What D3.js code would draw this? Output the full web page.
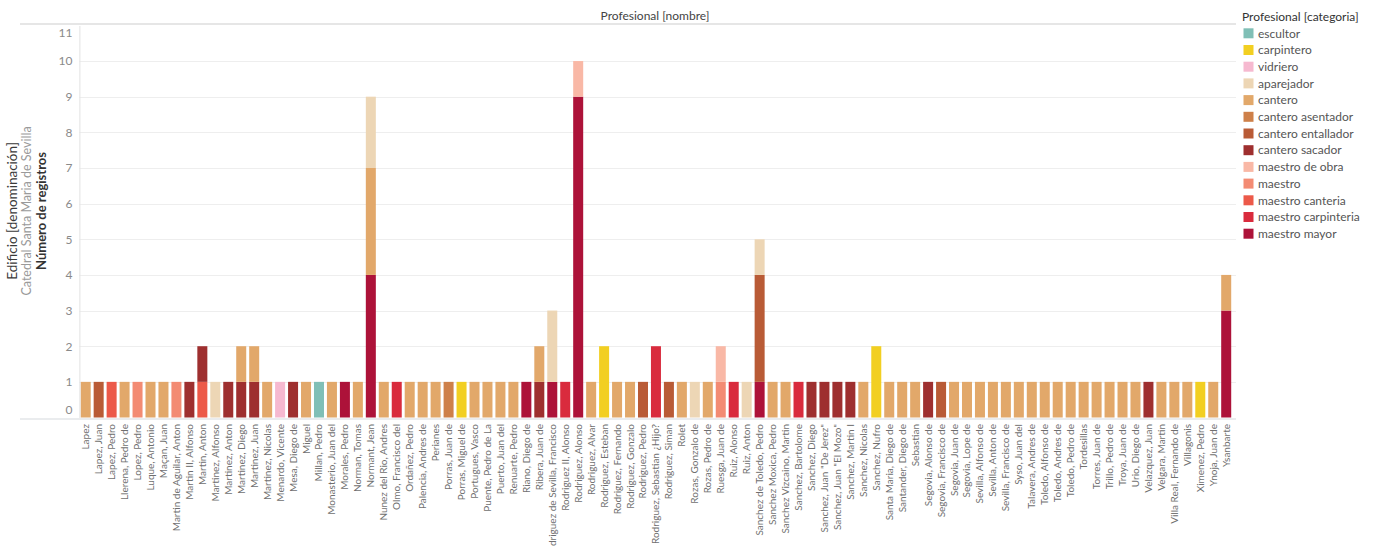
<!DOCTYPE html>
<html>
<head>
<meta charset="utf-8">
<script src="https://cdn.jsdelivr.net/npm/d3@7"></script>
<style>
  body { margin: 0; background: #fff; }
  svg { display: block; font-family: Lato, "Open Sans", sans-serif; }
</style>
</head>
<body>
<svg id="chart" width="1380" height="546"></svg>
<script>
// Professional categories, in legend order
const categories = [
  "escultor", "carpintero", "vidriero", "aparejador", "cantero",
  "cantero asentador", "cantero entallador", "cantero sacador",
  "maestro de obra", "maestro", "maestro canteria",
  "maestro carpinteria", "maestro mayor"
];
const categoryColors = [
  "#80bfb6", "#f2cf21", "#f6b9d0", "#edd6b5", "#e2a86a",
  "#ce8049", "#b95b36", "#9e2f2f", "#f9b8a6", "#f38b73",
  "#ec5949", "#d92b3d", "#ad1239"
];

// Professionals (x axis)
const names = [
  "Lapez", "Lapez, Juan", "Lapez, Pedro", "Llerena, Pedro de", "Lopez, Pedro",
  "Luque, Antonio", "Maçan, Juan", "Martin de Aguilar, Anton", "Martin II, Alfonso",
  "Martin, Anton", "Martinez, Alfonso", "Martinez, Anton", "Martinez, Diego",
  "Martinez, Juan", "Martinez, Nicolas", "Menardo, Vicente", "Mesa, Diego de",
  "Miguel", "Millan, Pedro", "Monasterio, Juan del", "Morales, Pedro",
  "Norman, Tomas", "Normant, Jean", "Nunez del Rio, Andres", "Olmo, Francisco del",
  "Ordañez, Pedro", "Palencia, Andres de", "Perianes", "Porras, Juan de",
  "Porras, Miguel de", "Portugues, Vasco", "Puente, Pedro de La", "Puerto, Juan del",
  "Renuarte, Pedro", "Riano, Diego de", "Ribera, Juan de",
  "Rodriguez de Sevilla, Francisco", "Rodriguez II, Alonso", "Rodriguez, Alonso",
  "Rodriguez, Alvar", "Rodriguez, Esteban", "Rodriguez, Fernando",
  "Rodriguez, Gonzalo", "Rodriguez, Pedro", "Rodriguez, Sebastian ¿Hijo?",
  "Rodriguez, Siman", "Rolet", "Rozas, Gonzalo de", "Rozas, Pedro de",
  "Ruesga, Juan de", "Ruiz, Alonso", "Ruiz, Anton", "Sanchez de Toledo, Pedro",
  "Sanchez Moxica, Pedro", "Sanchez Vizcaino, Martin", "Sanchez, Bartolome",
  "Sanchez, Diego", "Sanchez, Juan \"De Jerez\"", "Sanchez, Juan \"El Mozo\"",
  "Sanchez, Martin I", "Sanchez, Nicolas", "Sanchez, Nufro", "Santa Maria, Diego de",
  "Santander, Diego de", "Sebastian", "Segovia, Alonso de", "Segovia, Francisco de",
  "Segovia, Juan de", "Segovia, Lope de", "Sevilla, Alfonso de", "Sevilla, Anton de",
  "Sevilla, Francisco de", "Syso, Juan del", "Talavera, Andres de",
  "Toledo, Alfonso de", "Toledo, Andres de", "Toledo, Pedro de", "Tordesillas",
  "Torres, Juan de", "Trillo, Pedro de", "Troya, Juan de", "Urio, Diego de",
  "Velazquez, Juan", "Velgara, Martin", "Villa Real, Fernando de", "Villagonis",
  "Ximenez, Pedro", "Ynoja, Juan de", "Ysanbarte"
];

// Number of records per professional, split by category
const records = [
  [["cantero", 1]], [["cantero entallador", 1]], [["maestro canteria", 1]],
  [["cantero", 1]], [["maestro", 1]], [["cantero", 1]], [["cantero", 1]],
  [["maestro", 1]], [["cantero sacador", 1]],
  [["maestro canteria", 1], ["cantero sacador", 1]],
  [["aparejador", 1]], [["cantero sacador", 1]],
  [["cantero sacador", 1], ["cantero", 1]],
  [["cantero sacador", 1], ["cantero", 1]],
  [["cantero", 1]], [["vidriero", 1]], [["cantero sacador", 1]],
  [["cantero", 1]], [["escultor", 1]], [["cantero", 1]], [["maestro mayor", 1]],
  [["cantero", 1]],
  [["maestro mayor", 4], ["cantero", 3], ["aparejador", 2]],
  [["cantero", 1]], [["maestro carpinteria", 1]], [["cantero", 1]],
  [["cantero", 1]], [["cantero", 1]], [["cantero asentador", 1]],
  [["carpintero", 1]], [["cantero", 1]], [["cantero", 1]], [["cantero", 1]],
  [["cantero", 1]], [["maestro mayor", 1]],
  [["cantero sacador", 1], ["cantero", 1]],
  [["maestro mayor", 1], ["aparejador", 2]],
  [["maestro carpinteria", 1]],
  [["maestro mayor", 9], ["maestro de obra", 1]],
  [["cantero", 1]], [["carpintero", 2]], [["cantero", 1]], [["cantero", 1]],
  [["cantero entallador", 1]], [["maestro carpinteria", 2]],
  [["cantero entallador", 1]], [["cantero", 1]], [["aparejador", 1]],
  [["cantero", 1]], [["maestro", 1], ["maestro de obra", 1]],
  [["maestro carpinteria", 1]], [["aparejador", 1]],
  [["maestro mayor", 1], ["cantero entallador", 3], ["aparejador", 1]],
  [["cantero", 1]], [["cantero", 1]], [["maestro carpinteria", 1]],
  [["cantero sacador", 1]], [["cantero sacador", 1]], [["cantero sacador", 1]],
  [["cantero sacador", 1]], [["cantero", 1]], [["carpintero", 2]],
  [["cantero", 1]], [["cantero", 1]], [["cantero", 1]],
  [["cantero sacador", 1]], [["cantero entallador", 1]],
  [["cantero", 1]], [["cantero", 1]], [["cantero", 1]], [["cantero", 1]],
  [["cantero", 1]], [["cantero", 1]], [["cantero", 1]], [["cantero", 1]],
  [["cantero", 1]], [["cantero", 1]], [["cantero", 1]], [["cantero", 1]],
  [["cantero", 1]], [["cantero", 1]], [["cantero", 1]],
  [["cantero sacador", 1]], [["cantero", 1]], [["cantero", 1]], [["cantero", 1]],
  [["carpintero", 1]], [["cantero", 1]],
  [["maestro mayor", 3], ["cantero", 1]]
];

const yTickValues = [0, 1, 2, 3, 4, 5, 6, 7, 8, 9, 10, 11];

const svg = d3.select("#chart");

// Pane geometry
const paneLeft = 79.4, paneRight = 1236, paneTop = 25.4, paneBottom = 417.5;

const x = d3.scaleBand()
  .domain(names)
  .range([paneLeft, 1232.5])
  .paddingInner(0.228)
  .paddingOuter(0.1);

const y = d3.scaleLinear()
  .domain([0, 11])
  .range([paneBottom, paneTop]);

const color = d3.scaleOrdinal().domain(categories).range(categoryColors);

// Build a wide table: one row per professional, one column per category
const table = names.map((n, i) => {
  const row = { name: n };
  categories.forEach(c => row[c] = 0);
  records[i].forEach(([c, v]) => row[c] += v);
  return row;
});

// Last legend entry sits at the bottom of each stack
const stackKeys = categories.slice().reverse();
const series = d3.stack().keys(stackKeys)(table);

// Header line and pane title
svg.append("line")
  .attr("x1", 20).attr("x2", paneRight)
  .attr("y1", 24).attr("y2", 24)
  .attr("stroke", "#dedede").attr("stroke-width", 1.5);

svg.append("text")
  .attr("x", 655).attr("y", 20)
  .attr("text-anchor", "middle")
  .attr("font-size", 12)
  .attr("fill", "#444")
  .text("Profesional [nombre]");

// Horizontal gridlines
svg.append("g")
  .selectAll("line")
  .data(yTickValues.filter(v => v > 0 && v < 11))
  .join("line")
  .attr("x1", paneLeft).attr("x2", paneRight)
  .attr("y1", d => Math.round(y(d)) + 0.5)
  .attr("y2", d => Math.round(y(d)) + 0.5)
  .attr("stroke", "#eeeeee");

// Stacked bars
svg.append("g")
  .selectAll("g")
  .data(series)
  .join("g")
  .attr("fill", d => color(d.key))
  .selectAll("rect")
  .data(d => d.filter(s => s[1] - s[0] > 0))
  .join("rect")
  .attr("x", d => x(d.data.name))
  .attr("width", x.bandwidth())
  .attr("y", d => y(d[1]))
  .attr("height", d => y(d[0]) - y(d[1]));

// Y axis
const yAxis = svg.append("g")
  .attr("transform", `translate(${paneLeft},0)`)
  .call(d3.axisLeft(y).tickValues(yTickValues).tickSize(0).tickPadding(7).tickFormat(d3.format("d")));
yAxis.select(".domain").attr("stroke", "#e2e2e2");
yAxis.selectAll("text")
  .attr("font-size", 12)
  .attr("font-family", "Lato, 'Open Sans', sans-serif")
  .attr("fill", "#8a8a8a")
  // end labels are kept inside the pane
  .attr("dy", d => d === 0 ? "-0.3em" : d === 11 ? "0.95em" : "0.32em");

// Baseline
svg.append("line")
  .attr("x1", 20).attr("x2", paneRight)
  .attr("y1", 419).attr("y2", 419)
  .attr("stroke", "#d5d9de").attr("stroke-width", 1.2);

// X axis labels (rotated)
const xAxis = svg.append("g")
  .attr("transform", "translate(0,419)")
  .call(d3.axisBottom(x).tickSize(0).tickPadding(0));
xAxis.select(".domain").remove();
xAxis.selectAll("text")
  .attr("font-size", 10)
  .attr("font-family", "Lato, 'Open Sans', sans-serif")
  .attr("fill", "#6f6f6f")
  .attr("text-anchor", "end")
  .attr("transform", "rotate(-90)")
  .attr("x", -5)
  .attr("y", 0)
  .attr("dy", "0.35em");

// Y axis titles
const yTitles = [
  { text: "Edificio [denominación]", x: 16.5, size: 13.5, fill: "#3a3a3a", weight: 400 },
  { text: "Catedral Santa Maria de Sevilla", x: 30.5, size: 12.5, fill: "#9a9a9a", weight: 400 },
  { text: "Número de registros", x: 46, size: 13, fill: "#333", weight: 700 }
];
svg.append("g")
  .selectAll("text")
  .data(yTitles)
  .join("text")
  .attr("transform", d => `translate(${d.x},211) rotate(-90)`)
  .attr("text-anchor", "middle")
  .attr("font-size", d => d.size)
  .attr("fill", d => d.fill)
  .attr("font-weight", d => d.weight)
  .text(d => d.text);

// Legend
const legend = svg.append("g").attr("transform", "translate(1242,0)");
legend.append("text")
  .attr("x", 0).attr("y", 21)
  .attr("font-size", 12)
  .attr("fill", "#333")
  .text("Profesional [categoria]");
const items = legend.selectAll("g.item")
  .data(categories)
  .join("g")
  .attr("class", "item")
  .attr("transform", (d, i) => `translate(0,${33.3 + i * 16.7})`);
items.append("rect")
  .attr("x", 1.5).attr("y", -5)
  .attr("width", 10).attr("height", 10)
  .attr("fill", d => color(d));
items.append("text")
  .attr("x", 16).attr("y", 0)
  .attr("dy", "0.35em")
  .attr("font-size", 12)
  .attr("fill", "#555")
  .text(d => d);
</script>
</body>
</html>
